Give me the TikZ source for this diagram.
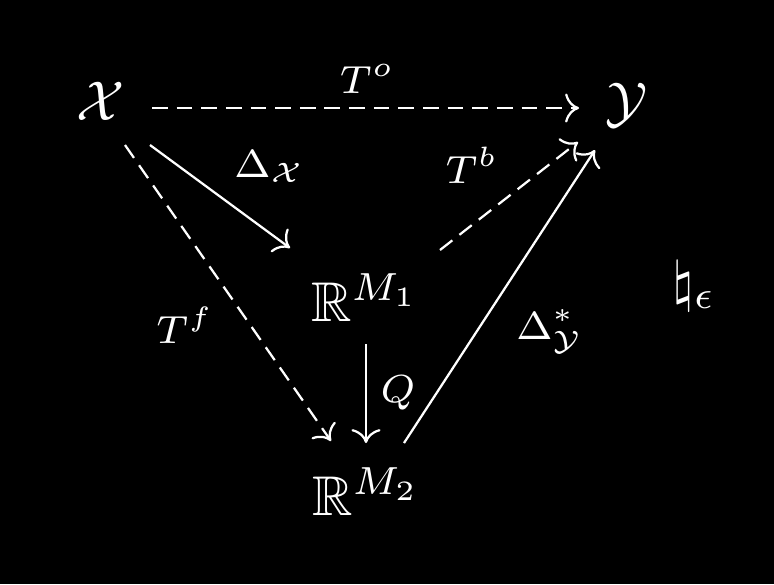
\documentclass[tikz,border=0pt]{standalone}
\usepackage{amssymb}
\usetikzlibrary{arrows.meta}
\begin{document}
\begin{tikzpicture}[x=0.17857pt,y=-0.17857pt,
  every node/.style={text=white,inner sep=0pt,outer sep=0pt,anchor=base},
  arr/.style={draw=white,line width=0.4pt,-{Computer Modern Rightarrow}},
  dashline/.style={dash pattern=on 2.8pt off 1.6pt}]
\fill[black] (0,0) rectangle (774,584);
\useasboundingbox (0,0) rectangle (774,584);
% objects
\node (X) at (101,120) {$\mathcal{X}$};
\node (Y) at (627,121) {$\mathcal{Y}$};
\node (R1) at (365,321) {$\mathbb{R}^{M_1}$};
\node (R2) at (366,515) {$\mathbb{R}^{M_2}$};
% labels
\node (lTo) at (367,93) {$\scriptstyle T^o$};
\node (lDX) at (270,177) {$\scriptstyle \Delta_{\mathcal{X}}$};
\node (lTb) at (472,183) {$\scriptstyle T^b$};
\node (lTf) at (185,343) {$\scriptstyle T^f$};
\node (lDY) at (550,339) {$\scriptstyle \Delta^*_{\mathcal{Y}}$};
\node (lQ) at (398,402) {$\scriptstyle Q$};
\node (nat) at (694,300) {$\natural_\epsilon$};
% arrows
\draw[arr,dashline] ([shift={(51,-12)}]X.base) -- ([shift={(-48,-13)}]Y.base);
\draw[arr] ([shift={(49,25)}]X.base) -- ([shift={(-75,-73)}]R1.base);
\draw[arr,dashline] ([shift={(24,25)}]X.base) -- ([shift={(-35,-74)}]R2.base);
\draw[arr,dashline] ([shift={(75,-71)}]R1.base) -- ([shift={(-49,21)}]Y.base);
\draw[arr] ([shift={(38,-72)}]R2.base) -- ([shift={(-32,29)}]Y.base);
\draw[arr] ([shift={(1,23)}]R1.base) -- ([shift={(0,-72)}]R2.base);
\end{tikzpicture}
\end{document}
